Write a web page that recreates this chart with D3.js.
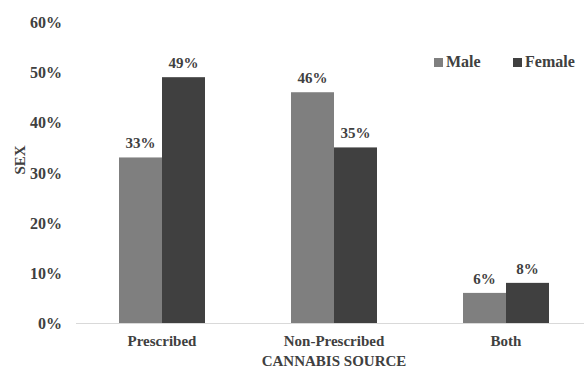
<!DOCTYPE html>
<html>
<head>
<meta charset="utf-8">
<script src="https://cdn.jsdelivr.net/npm/d3@7"></script>
<style>
  html, body { margin: 0; padding: 0; background: #fff; }
  text { font-family: "Liberation Serif", "Times New Roman", serif; font-weight: bold; fill: #404040; }
</style>
</head>
<body>
<svg id="chart" width="585" height="368"></svg>
<script>
// Cannabis source by sex (share of respondents, %)
const categories = ["Prescribed", "Non-Prescribed", "Both"];
const seriesNames = ["Male", "Female"];
const maleValues = [33, 46, 6];
const femaleValues = [49, 35, 8];
const yTicks = [0, 10, 20, 30, 40, 50, 60];
const seriesColors = ["#7f7f7f", "#404040"];

const svg = d3.select("#chart");
const values = [maleValues, femaleValues];

const x = d3.scaleBand().domain(categories).range([76, 592]).paddingInner(0).paddingOuter(0);
const xs = d3.scaleBand().domain(seriesNames).range([0, x.bandwidth()]).paddingInner(0).paddingOuter(1);
const y = d3.scaleLinear().domain([0, 60]).range([323, 22]);

// Y axis labels (no axis line, no gridlines)
const yAxis = d3.axisLeft(y).tickValues(yTicks).tickFormat(d => d + "%").tickSize(0).tickPadding(0);
const gy = svg.append("g").attr("transform", "translate(62,0)").call(yAxis);
gy.select(".domain").remove();
gy.selectAll("text").style("font-size", "16px").attr("dy", "0.35em").attr("fill", "#404040");

// Bars
categories.forEach((cat, i) => {
  seriesNames.forEach((s, j) => {
    const v = values[j][i];
    const bx = x(cat) + xs(s);
    svg.append("rect")
      .attr("x", bx)
      .attr("y", y(v))
      .attr("width", xs.bandwidth())
      .attr("height", y(0) - y(v))
      .attr("fill", seriesColors[j]);
    svg.append("text")
      .attr("x", bx + xs.bandwidth() / 2)
      .attr("y", y(v) - 9)
      .attr("text-anchor", "middle")
      .style("font-size", "15px")
      .text(v + "%");
  });
});

// X axis baseline and category labels
svg.append("line")
  .attr("x1", 76).attr("x2", 584)
  .attr("y1", y(0) + 0.5).attr("y2", y(0) + 0.5)
  .attr("stroke", "#d9d9d9").attr("stroke-width", 1);

const xAxis = d3.axisBottom(x).tickSize(0).tickPadding(0);
const gx = svg.append("g").attr("transform", "translate(0,335)").call(xAxis);
gx.select(".domain").remove();
gx.selectAll("text").style("font-size", "15px").attr("dy", "0.71em").attr("fill", "#404040");

// Axis titles
svg.append("text")
  .attr("x", 334).attr("y", 366)
  .attr("text-anchor", "middle")
  .style("font-size", "15px")
  .text("CANNABIS SOURCE");

svg.append("text")
  .attr("transform", "translate(25,160) rotate(-90)")
  .attr("text-anchor", "middle")
  .style("font-size", "15px")
  .text("SEX");

// Legend
const legendX = [434, 513];
seriesNames.forEach((s, j) => {
  const g = svg.append("g").attr("transform", `translate(${legendX[j]},58)`);
  g.append("rect").attr("width", 9).attr("height", 9).attr("fill", seriesColors[j]);
  g.append("text").attr("x", 12).attr("y", 9).style("font-size", "16px").text(s);
});
</script>
</body>
</html>
